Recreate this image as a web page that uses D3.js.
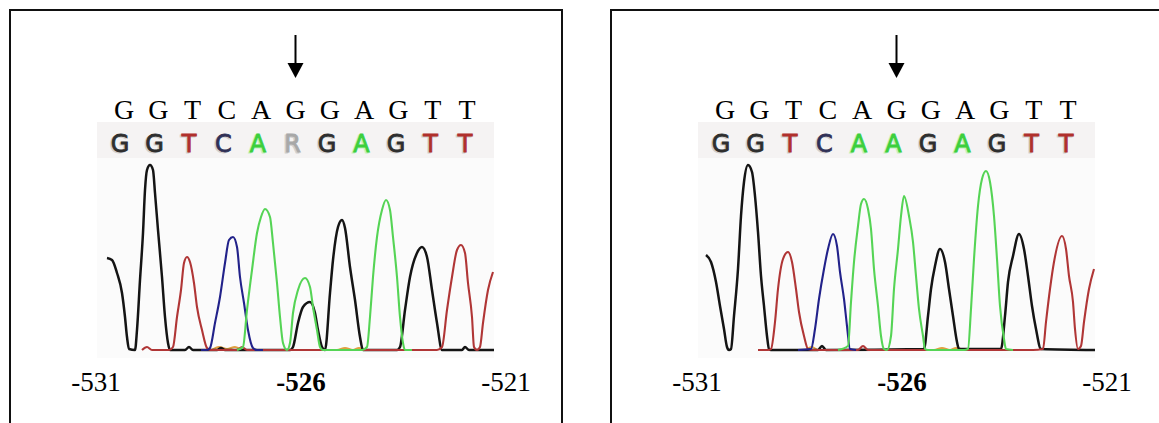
<!DOCTYPE html>
<html>
<head>
<meta charset="utf-8">
<script src="https://cdn.jsdelivr.net/npm/d3@7"></script>
<style>
  body { margin: 0; background: #fff; }
</style>
</head>
<body>
<svg id="chart"></svg>
<script>

// reference sequence (top line) and base calls of the two samples
var refSeq = ["G", "G", "T", "C", "A", "G", "G", "A", "G", "T", "T"];
var callsLeft = ["G", "G", "T", "C", "A", "R", "G", "A", "G", "T", "T"];
var callsRight = ["G", "G", "T", "C", "A", "A", "G", "A", "G", "T", "T"];

// promoter positions under the trace
var positions = [-531, -526, -521];
var markedPos = -526;

// chromatogram traces, [scan, signal]
var blackLeft = [[10,92],[15,90],[20,77],[25,57],[28,33],[30,13],[32,1],[38,0],[40,20],[43,70],[46,117],[48,160],[50,180],[53,185],[56,180],[58,157],[61,120],[65,73],[68,33],[71,7],[73,0],[88,0],[92,3],[96,0],[120,0],[124,2],[128,0],[193,0],[196,3],[201,27],[206,43],[213,48],[218,37],[221,20],[225,3],[228,0],[233,57],[236,90],[241,123],[245,130],[248,122],[253,83],[258,50],[263,13],[266,0],[300,0],[303,3],[308,40],[313,73],[320,97],[325,103],[330,93],[335,60],[340,27],[345,0],[365,0],[368,3],[372,0],[397,0]];
var redLeft = [[45,0],[50,3],[55,0],[72,0],[76,3],[80,33],[84,60],[87,87],[90,93],[93,88],[97,67],[100,43],[105,20],[110,2],[113,0],[140,0],[145,3],[150,0],[215,0],[335,0],[340,0],[345,3],[350,40],[355,73],[360,100],[364,105],[368,97],[371,67],[375,33],[377,3],[380,0],[383,3],[386,27],[391,60],[396,78]];
var blueLeft = [[104,0],[110,0],[113,2],[118,27],[123,53],[128,87],[132,110],[136,113],[140,103],[143,73],[147,47],[151,20],[156,2],[160,0],[166,0]];
var greenLeft = [[140,0],[146,3],[150,40],[155,80],[160,117],[164,133],[168,141],[173,133],[176,107],[180,67],[183,33],[186,7],[190,0],[193,7],[196,37],[201,60],[208,72],[213,63],[216,43],[220,20],[223,3],[226,0],[265,0],[270,3],[273,33],[276,73],[280,113],[285,140],[289,150],[293,140],[296,113],[300,73],[303,33],[306,7],[308,0],[315,0]];
var noiseLeft = [[115,0],[122,3],[130,1],[138,3],[146,0],[240,0],[248,2],[256,0],[262,2],[268,0]];

var blackRight = [[8,95],[13,88],[18,68],[22,44],[26,21],[29,3],[31,0],[33,1],[36,34],[40,81],[43,134],[46,168],[50,185],[54,178],[57,154],[60,118],[63,74],[66,44],[69,14],[71,1],[73,0],[120,0],[124,4],[128,0],[226,1],[230,34],[233,61],[237,84],[242,101],[247,88],[251,61],[255,34],[259,8],[261,1],[303,1],[307,34],[310,68],[315,94],[321,116],[326,101],[330,74],[334,44],[338,21],[343,1],[397,0]];
var redRight = [[60,0],[70,0],[73,1],[77,28],[80,61],[85,91],[90,98],[94,88],[98,61],[101,38],[106,14],[110,1],[115,0],[160,0],[165,4],[170,0],[335,0],[345,1],[348,28],[352,61],[356,88],[364,114],[368,101],[371,74],[375,48],[377,21],[380,1],[383,4],[386,28],[391,61],[396,81]];
var blueRight = [[100,0],[113,1],[117,21],[121,51],[126,81],[130,101],[135,116],[139,104],[142,78],[146,51],[149,24],[152,1],[158,0]];
var greenRight = [[140,0],[150,4],[153,48],[156,88],[160,124],[163,146],[166,151],[170,141],[173,121],[176,81],[180,44],[183,14],[186,1],[189,0],[193,14],[196,61],[200,101],[203,134],[206,154],[211,134],[215,108],[218,74],[221,41],[225,14],[227,1],[230,0],[266,0],[270,1],[273,41],[276,91],[280,144],[284,171],[288,179],[292,168],[296,134],[299,91],[302,44],[306,11],[308,1],[315,0]];
var noiseRight = [[108,0],[114,3],[120,0],[236,0],[244,2],[252,0],[258,2],[266,0]];

var svgWidth = 1159;
var svgHeight = 423;
var panelWidth = 552;

var baseColor = {
    G: "#2e2e2e",
    A: "#3ccf3c",
    T: "#b0302c",
    C: "#303056",
    R: "#a8a8a8"
};
var traceColor = {
    black: "#141414",
    red: "#b03636",
    blue: "#22228a",
    green: "#55d455",
    noise: "#e0a040"
};

var svg = d3.select("#chart")
    .attr("width", svgWidth)
    .attr("height", svgHeight);

// scales shared by both panels (panel-local coordinates)
var topX = d3.scaleLinear().domain([0, 10]).range([114, 457]);
var callX = d3.scaleLinear().domain([0, 10]).range([110, 455]);
var posX = d3.scaleLinear().domain([-531, -521]).range([86, 496]);
var scanX = d3.scaleLinear().domain([0, 397]).range([87, 484]);
var sigY = d3.scaleLinear().domain([0, 200]).range([340, 140]);

var line = d3.line()
    .x(d => scanX(d[0]))
    .y(d => sigY(d[1]))
    .curve(d3.curveMonotoneX);

function drawPanel(left, calls, traces) {
    var g = svg.append("g")
        .attr("transform", `translate(${left}, 10)`);

    // frame
    g.append("rect")
        .attr("x", 0)
        .attr("y", 0)
        .attr("width", panelWidth)
        .attr("height", 440)
        .attr("fill", "none")
        .attr("stroke", "#111")
        .attr("stroke-width", 2);

    // arrow over the variant
    var ax = topX(5);
    g.append("line")
        .attr("x1", ax).attr("x2", ax)
        .attr("y1", 25).attr("y2", 56)
        .attr("stroke", "#000")
        .attr("stroke-width", 2);
    g.append("path")
        .attr("d", `M${ax - 8},53 L${ax + 8},53 L${ax},68 Z`)
        .attr("fill", "#000");

    // reference sequence
    g.selectAll("text.ref")
        .data(refSeq)
        .enter()
        .append("text")
        .attr("class", "ref")
        .attr("x", (d, i) => topX(i))
        .attr("y", 109)
        .attr("text-anchor", "middle")
        .style("font-family", "'Liberation Serif', 'Times New Roman', serif")
        .style("font-size", "28px")
        .attr("fill", "#000")
        .text(d => d);

    // chromatogram screenshot background
    g.append("rect")
        .attr("x", scanX(0))
        .attr("y", 112)
        .attr("width", scanX(397) - scanX(0))
        .attr("height", 236)
        .attr("fill", "#fbfbfb");
    g.append("rect")
        .attr("x", scanX(0))
        .attr("y", 112)
        .attr("width", scanX(397) - scanX(0))
        .attr("height", 36)
        .attr("fill", "#f5f3f3");

    // base calls, with the soft shadow of the screenshot
    var callFont = "'DejaVu Sans', Verdana, sans-serif";
    g.selectAll("text.shadow")
        .data(calls)
        .enter()
        .append("text")
        .attr("class", "shadow")
        .attr("x", (d, i) => callX(i) - 1.5)
        .attr("y", 143)
        .attr("text-anchor", "middle")
        .style("font-family", callFont)
        .style("font-size", "24px")
        .attr("fill", d => d === "A" ? "#c0f0c0" : "#cfcfcf")
        .attr("stroke", d => d === "A" ? "#c0f0c0" : "#cfcfcf")
        .attr("stroke-width", 0.8)
        .text(d => d);
    g.selectAll("text.call")
        .data(calls)
        .enter()
        .append("text")
        .attr("class", "call")
        .attr("x", (d, i) => callX(i))
        .attr("y", 142)
        .attr("text-anchor", "middle")
        .style("font-family", callFont)
        .style("font-size", "24px")
        .attr("fill", d => baseColor[d])
        .attr("stroke", d => baseColor[d])
        .attr("stroke-width", 0.8)
        .text(d => d);

    // traces
    traces.forEach(function(t) {
        g.append("path")
            .datum(t.values)
            .attr("d", line)
            .attr("fill", "none")
            .attr("stroke", traceColor[t.channel])
            .attr("stroke-width", t.channel === "black" ? 2.5 : 2.1)
            .attr("stroke-linejoin", "round");
    });

    // position labels
    g.selectAll("text.pos")
        .data(positions)
        .enter()
        .append("text")
        .attr("class", "pos")
        .attr("x", d => posX(d))
        .attr("y", 381)
        .attr("text-anchor", "middle")
        .style("font-family", "'Liberation Serif', 'Times New Roman', serif")
        .style("font-size", "27px")
        .style("font-weight", d => d === markedPos ? "bold" : "normal")
        .attr("fill", "#000")
        .text(d => d);
}

drawPanel(10, callsLeft, [
    { channel: "noise", values: noiseLeft },
    { channel: "black", values: blackLeft },
    { channel: "red", values: redLeft },
    { channel: "blue", values: blueLeft },
    { channel: "green", values: greenLeft }
]);

drawPanel(611, callsRight, [
    { channel: "noise", values: noiseRight },
    { channel: "black", values: blackRight },
    { channel: "red", values: redRight },
    { channel: "blue", values: blueRight },
    { channel: "green", values: greenRight }
]);

</script>
</body>
</html>
